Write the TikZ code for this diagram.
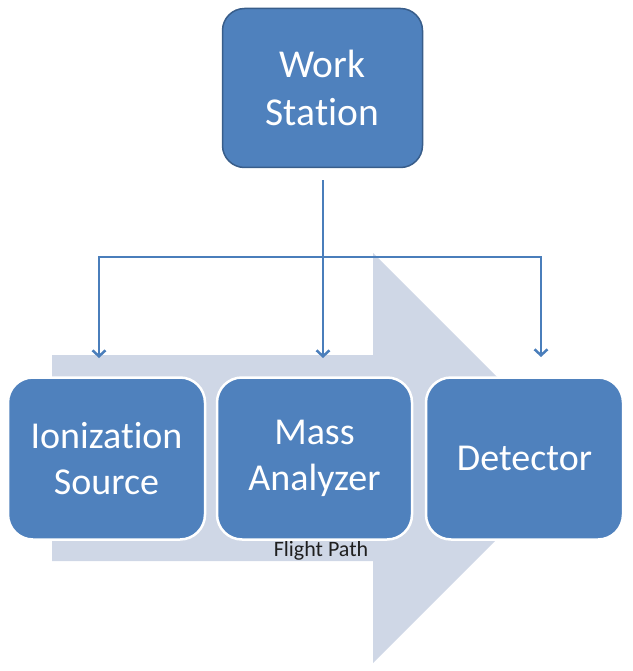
\documentclass[tikz,border=0pt]{standalone}
\usepackage{fontspec}
\setmainfont[Ligatures={NoCommon}, Contextuals={NoAlternate}, RawFeature={-clig}]{Carlito}
\usetikzlibrary{arrows.meta}
\definecolor{boxblue}{HTML}{4F81BD}
\definecolor{boxedge}{HTML}{385D8A}
\definecolor{linkblue}{HTML}{4A7EBB}
\definecolor{flowgrey}{HTML}{CFD7E6}
\tikzset{
  wsbox/.style={draw=boxedge, line width=1.5pt, fill=boxblue, rounded corners=22pt,
    text=white, align=center, minimum width=200pt, minimum height=159pt,
    font=\fontsize{39.5}{48}\selectfont},
  unitbox/.style={draw=white, line width=2.5pt, fill=boxblue, rounded corners=25pt,
    text=white, align=center, minimum height=162pt,
    font=\fontsize{38}{46}\selectfont},
  conn/.style={draw=linkblue, line width=2.5pt,
    -{Straight Barb[length=6pt,width=13pt,line width=2.5pt]}},
}
\begin{document}
\begin{tikzpicture}[x=1pt,y=-1pt]
\useasboundingbox (0,0) rectangle (632,671);
% flight path arrow
\fill[flowgrey] (52,355) -- (373,355) -- (373,253) -- (578,458) -- (373,663)
  -- (373,561) -- (52,561) -- cycle;
\node[font=\fontsize{22}{26}\selectfont, text=black!88] (fp) at (321,551) {Flight Path};
% work station
\node[wsbox] (ws) at (322.5,88) {Work\\Station};
% connectors
\coordinate (top) at (323,180);
\coordinate (jc) at (323,257);
\coordinate (tl) at (99,358);
\coordinate (tm) at (323,358);
\coordinate (tr) at (541,357);
\draw[conn] (top) -- (tm);
\draw[conn] (jc) -| (tl);
\draw[conn] (jc) -| (tr);
% units
\node[unitbox, minimum width=197pt] (ion) at (106.5,458.5) {Ionization\\Source};
\node[unitbox, minimum width=195pt] (mass) at (314.5,458.5) {Mass\\Analyzer};
\node[unitbox, minimum width=197pt] (det) at (524.5,458.5) {Detector};
\end{tikzpicture}
\end{document}
